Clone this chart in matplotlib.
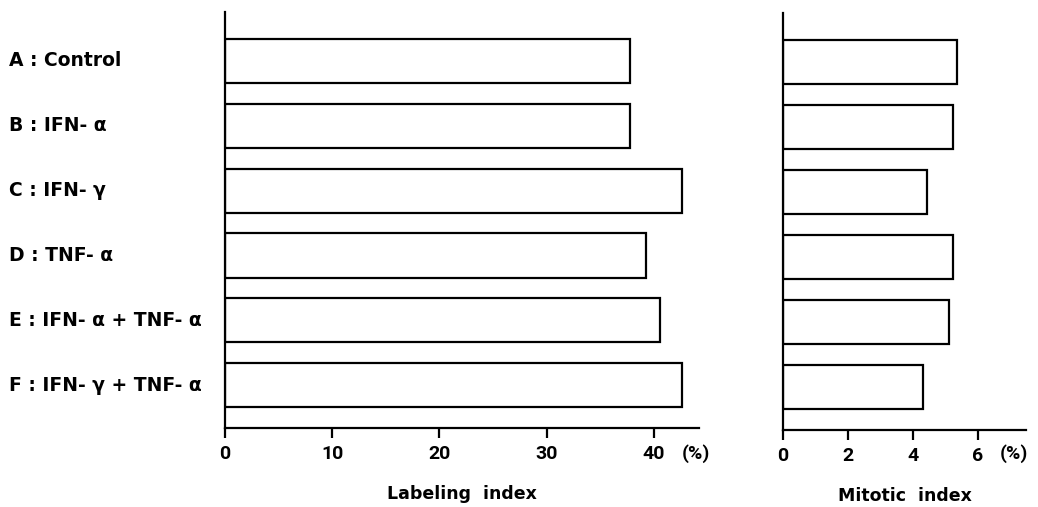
import matplotlib
matplotlib.use("Agg")
import matplotlib.pyplot as plt
from matplotlib.transforms import blended_transform_factory

# 処理群
groups = ["A : Control", "B : IFN- α", "C : IFN- γ", "D : TNF- α",
          "E : IFN- α + TNF- α", "F : IFN- γ + TNF- α"]
labeling_index = [37.8, 37.8, 42.6, 39.3, 40.6, 42.6]
mitotic_index = [5.35, 5.22, 4.44, 5.23, 5.10, 4.30]
labeling_ticks = [0, 10, 20, 30, 40]
mitotic_ticks = [0, 2, 4, 6]

plt.rcParams['font.family'] = ['DejaVu Sans']
num_font = ['Roboto', 'DejaVu Sans']

fig = plt.figure(figsize=(10.38, 5.07), dpi=100)
ax1 = fig.add_axes([0.2168, 0.1558, 0.4566, 0.8205])
ax2 = fig.add_axes([0.7543, 0.1519, 0.2341, 0.8225])

ypos = list(range(len(groups)))


def style_panel(ax, values, ticks, xmax, xlabel, pct_x):
    ax.barh(ypos, values, height=0.68, color='white', edgecolor='black', linewidth=1.6)
    ax.set_xlim(0, xmax)
    ax.set_ylim(5.66, -0.754)
    ax.spines['right'].set_visible(False)
    ax.spines['top'].set_visible(False)
    ax.spines['left'].set_linewidth(1.6)
    ax.spines['bottom'].set_linewidth(1.6)
    ax.set_yticks([])
    ax.set_xticks(ticks)
    ax.set_xticklabels([str(t) for t in ticks], fontsize=14, fontweight='bold', family=num_font)
    ax.tick_params(axis='x', direction='out', length=7, width=1.6, pad=5)
    # (%) は目盛りラベルと同じ高さ
    ax.text(pct_x, 1 - 454 / 507, "(%)", transform=fig.transFigure, fontsize=14,
            fontweight='bold', family=num_font, ha='center', va='center')
    ax.set_xlabel(xlabel, fontsize=12.5, fontweight='bold', labelpad=16)


style_panel(ax1, labeling_index, labeling_ticks, 44.2, "Labeling  index", 696 / 1038)
style_panel(ax2, mitotic_index, mitotic_ticks, 7.48, "Mitotic  index", 1014 / 1038)

# 左側の群ラベル
tr = blended_transform_factory(fig.transFigure, ax1.transData)
for y, g in zip(ypos, groups):
    ax1.text(0.009, y, g, transform=tr, fontsize=13.5, fontweight='bold',
             ha='left', va='center')

fig.savefig("out.png", dpi=100)
